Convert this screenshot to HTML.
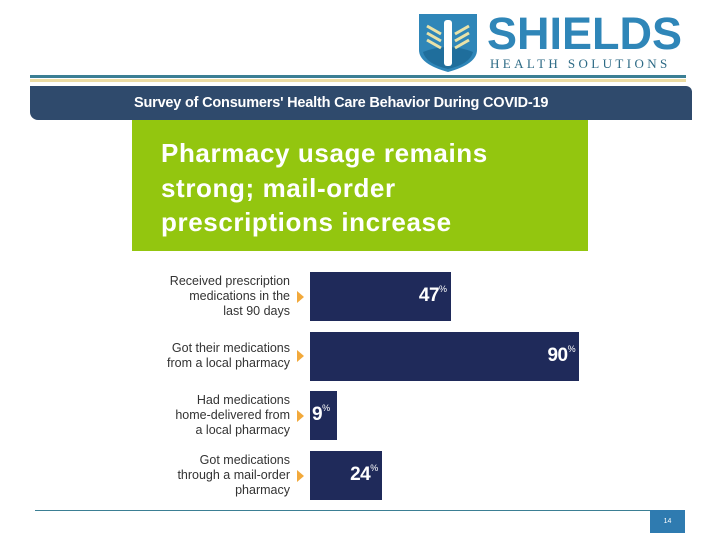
<!DOCTYPE html>
<html><head><meta charset="utf-8"><style>
body{margin:0;width:720px;height:540px;background:#fff;position:relative;overflow:hidden;font-family:"Liberation Sans",sans-serif}
.abs{position:absolute}
.lbl{position:absolute;right:430px;text-align:right;font-size:12.5px;line-height:15px;color:#333}
.arr{position:absolute;left:297px;width:0;height:0;border-top:6px solid transparent;border-bottom:6px solid transparent;border-left:7px solid #f2a93b}
.bar{position:absolute;left:310px;background:#1f2a5a}
.val{position:absolute;color:#fff;font-weight:bold;font-size:19px;letter-spacing:-0.5px}
.val sup{font-size:9px;font-weight:normal;vertical-align:top;position:relative;top:-1px}
</style></head><body>
<svg class="abs" style="left:415px;top:12px" width="66" height="62">
<path d="M4 2 H62 V38 Q62 52 33 60 Q4 52 4 38 Z" fill="#2f86b8"/>
<path d="M8 40 Q33 30 58 40 Q55 52 33 57 Q11 52 8 40Z" fill="#1f6e9c"/>
<rect x="29" y="8" width="8" height="46" rx="3" fill="#fff"/>
<g stroke="#e9e2a8" stroke-width="3"><line x1="12" y1="14" x2="26" y2="22"/><line x1="12" y1="21" x2="26" y2="29"/><line x1="12" y1="28" x2="26" y2="36"/><line x1="54" y1="14" x2="40" y2="22"/><line x1="54" y1="21" x2="40" y2="29"/><line x1="54" y1="28" x2="40" y2="36"/></g>
</svg>
<div class="abs" style="left:487px;top:9px;font-size:45px;font-weight:bold;color:#2f86b8;line-height:50px">SHIELDS</div>
<div class="abs" style="left:490px;top:56px;font-family:'Liberation Serif',serif;font-size:13px;letter-spacing:3.4px;color:#2d6a85">HEALTH SOLUTIONS</div>
<div class="abs" style="left:30px;top:75px;width:656px;height:3px;background:#3b7f94"></div>
<div class="abs" style="left:30px;top:79px;width:656px;height:3px;background:#ecdca3"></div>
<div class="abs" style="left:30px;top:86px;width:662px;height:34px;background:#2f4a6c;border-radius:0 6px 0 8px;color:#fff;font-size:14.5px;font-weight:bold;line-height:34px;text-indent:104px;letter-spacing:-0.2px">Survey of Consumers' Health Care Behavior During COVID-19</div>
<div class="abs" style="left:132px;top:120px;width:456px;height:131px;background:#93c60f"></div>
<div class="abs" style="left:161px;top:136px;color:#fff;font-size:26px;font-weight:bold;line-height:34.5px;letter-spacing:0.6px">Pharmacy usage remains<br>strong; mail-order<br>prescriptions increase</div>
<div id="chart"></div>
<div class="abs" style="left:35px;top:510px;width:615px;height:1px;background:#3b7f94"></div>
<div class="abs" style="left:650px;top:510px;width:35px;height:23px;background:#2f7bb0;color:#fff;font-size:7px;text-align:center;line-height:23px">14</div>
<script>
const categories=["Received prescription<br>medications in the<br>last 90 days","Got their medications<br>from a local pharmacy","Had medications<br>home-delivered from<br>a local pharmacy","Got medications<br>through a mail-order<br>pharmacy"];
const values=[47,90,9,24];
const chart=document.getElementById('chart');
const x=v=>v*2.99;
const rowTop=i=>272+i*59.7;
values.forEach((v,i)=>{
 const t=rowTop(i),h=49,w=x(v);
 const b=document.createElement('div');b.className='bar';
 
 
 b.style.top=t+'px';b.style.height=h+'px';b.style.width=w+'px';chart.appendChild(b);
 const val=document.createElement('div');val.className='val';
 
 
 val.innerHTML=v+'<sup>%</sup>';val.style.top=(t+13)+'px';
 val.style.right=(720-(310+w)+4)+'px';
 if(v<15){val.style.right='';val.style.left='312px';}
 chart.appendChild(val);
 const a=document.createElement('div');a.className='arr';
 
 
 a.style.top=(t+h/2-6)+'px';chart.appendChild(a);
 const l=document.createElement('div');l.className='lbl';
 
 
 l.innerHTML=categories[i];
 const lines=categories[i].split('<br>').length;
 l.style.top=(t+h/2-lines*7.5)+'px';chart.appendChild(l);
});
</script>
</body></html>
